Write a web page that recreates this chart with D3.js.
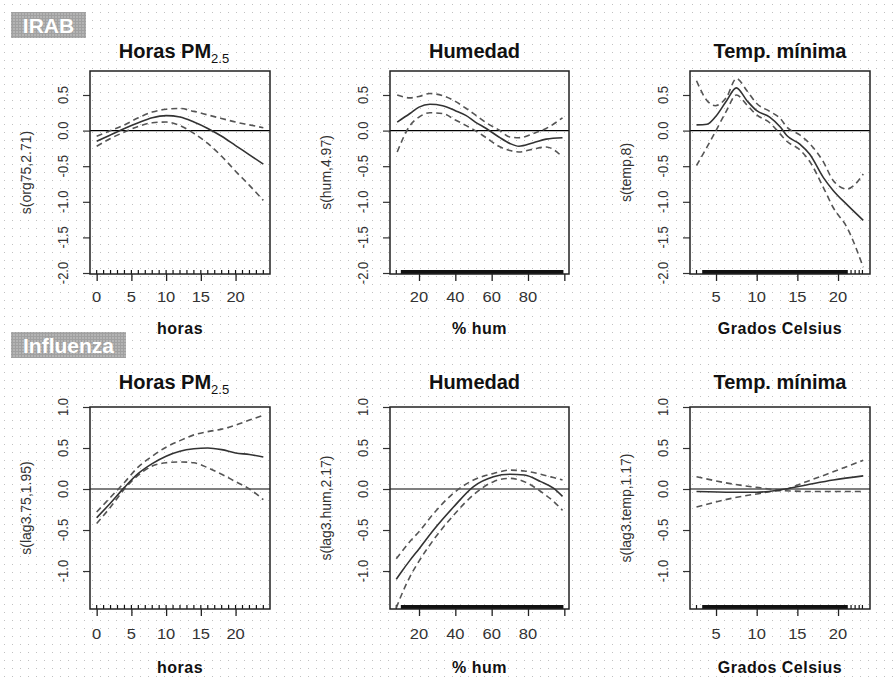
<!DOCTYPE html>
<html>
<head>
<meta charset="utf-8">
<script src="https://cdn.jsdelivr.net/npm/d3@7"></script>
<style>
  body { margin: 0; background: #fff; }
  svg { display: block; }
  text { font-family: "Liberation Sans", Arial, sans-serif; }
</style>
</head>
<body>
<svg id="chart"></svg>
<script>
// canvas
let width = 894
let height = 677

// ---- data ----
// x values per panel
let horasX = [0, 2, 4, 6, 8, 10, 12, 14, 16, 18, 20, 22, 24]
let humX = [8, 15, 20, 26, 33, 40, 46, 51, 57, 64, 70, 75, 83, 90, 99]
let tempX = [2.6, 3.9, 4.9, 6.3, 7.5, 8.8, 10, 11.6, 12.9, 13.7, 15.3, 16.5, 18.2, 19.4, 21.1, 23.1]
let humX2 = [7.5, 10, 15, 20, 28, 39, 50, 61, 70, 78, 87, 94, 99]
let tempX2 = [2.6, 7.1, 10, 12.9, 16.1, 19.4, 23.1]

// IRAB
let irabHorasFit = [-0.15, -0.06, 0.03, 0.11, 0.18, 0.21, 0.19, 0.12, 0.03, -0.08, -0.21, -0.34, -0.47]
let irabHorasUp = [-0.08, 0.0, 0.08, 0.18, 0.26, 0.30, 0.31, 0.27, 0.22, 0.17, 0.12, 0.08, 0.04]
let irabHorasLo = [-0.22, -0.11, -0.02, 0.06, 0.11, 0.12, 0.07, -0.04, -0.18, -0.36, -0.57, -0.77, -0.98]

let irabHumFit = [0.12, 0.24, 0.33, 0.37, 0.35, 0.28, 0.21, 0.12, 0.03, -0.09, -0.18, -0.22, -0.17, -0.12, -0.10]
let irabHumUp = [0.50, 0.46, 0.48, 0.52, 0.49, 0.41, 0.31, 0.22, 0.11, 0.01, -0.09, -0.10, -0.04, 0.03, 0.18]
let irabHumLo = [-0.30, 0.07, 0.19, 0.25, 0.24, 0.15, 0.07, 0.0, -0.10, -0.22, -0.28, -0.30, -0.26, -0.23, -0.37]

let irabTempFit = [0.08, 0.09, 0.19, 0.42, 0.60, 0.42, 0.28, 0.19, 0.05, -0.07, -0.19, -0.33, -0.66, -0.84, -1.04, -1.26]
let irabTempUp = [0.70, 0.42, 0.35, 0.47, 0.73, 0.56, 0.38, 0.27, 0.17, 0.05, -0.06, -0.18, -0.44, -0.70, -0.82, -0.61]
let irabTempLo = [-0.49, -0.23, -0.02, 0.28, 0.50, 0.36, 0.22, 0.11, -0.05, -0.15, -0.27, -0.43, -0.80, -1.08, -1.36, -1.92]

// Influenza
let fluHorasFit = [-0.35, -0.17, 0.02, 0.19, 0.31, 0.40, 0.46, 0.49, 0.50, 0.48, 0.44, 0.42, 0.39]
let fluHorasUp = [-0.28, -0.10, 0.08, 0.27, 0.40, 0.51, 0.59, 0.66, 0.70, 0.73, 0.78, 0.84, 0.90]
let fluHorasLo = [-0.42, -0.22, 0.0, 0.17, 0.28, 0.32, 0.33, 0.32, 0.26, 0.18, 0.09, 0.0, -0.13]

let fluHumFit = [-1.10, -1.02, -0.87, -0.73, -0.50, -0.22, 0.03, 0.15, 0.18, 0.17, 0.09, 0.01, -0.09]
let fluHumUp = [-0.85, -0.78, -0.64, -0.52, -0.30, -0.05, 0.11, 0.19, 0.23, 0.22, 0.18, 0.14, 0.11]
let fluHumLo = [-1.45, -1.31, -1.07, -0.88, -0.62, -0.32, -0.07, 0.09, 0.13, 0.09, -0.03, -0.15, -0.26]

let fluTempFit = [-0.03, -0.04, -0.04, -0.01, 0.05, 0.11, 0.16]
let fluTempUp = [0.15, 0.06, 0.02, -0.01, 0.09, 0.21, 0.35]
let fluTempLo = [-0.22, -0.11, -0.06, -0.02, -0.03, -0.03, -0.03]

// rugs: single ticks and dense stretches
let rugHoras = [0, 1, 2, 3, 4, 5, 6, 7, 8, 9, 10, 11, 12, 13, 14, 15, 16, 17, 18, 19, 20, 21, 22, 23, 24]
let rugHumTicks = [7.5]
let rugHumDense = [[10, 99.5]]
let rugTempTicks = [2.6, 21.6, 22.1, 22.6, 23.0]
let rugTempDense = [[3.3, 21.2]]

// ticks
let horasTicks = [0, 5, 10, 15, 20]
let horasLabels = ["0", "5", "10", "15", "20"]
let humTicks = [20, 40, 60, 80, 100]
let humLabels = ["20", "40", "60", "80", ""]
let tempTicks = [5, 10, 15, 20]
let tempLabels = ["5", "10", "15", "20"]
let irabYTicks = [-2, -1.5, -1, -0.5, 0, 0.5]
let fluYTicks = [-1, -0.5, 0, 0.5, 1]

// texts
let groupNames = ["IRAB", "Influenza"]
let titles = ["Horas PM", "Humedad", "Temp. mínima"]
let xTitles = ["horas", "% hum", "Grados Celsius"]
let irabYTitles = ["s(org75,2.71)", "s(hum,4.97)", "s(temp,8)"]
let fluYTitles = ["s(lag3.75,1.95)", "s(lag3.hum,2.17)", "s(lag3.temp,1.17)"]

// ---- layout ----
let colLeft = [90, 390, 690]
let colRight = [270, 569, 870]
let rows = [
	{top: 71, bottom: 274, domain: [-2.014, 0.837], ticks: irabYTicks, yTitles: irabYTitles,
	 label: {x: 11, y: 12, w: 75, h: 26}, titleY: 58, xLabY: 297, xTitleY: 334},
	{top: 407, bottom: 609, domain: [-1.463, 1.0], ticks: fluYTicks, yTitles: fluYTitles,
	 label: {x: 11, y: 332, w: 115, h: 26}, titleY: 389, xLabY: 634, xTitleY: 673}
]
let xDomains = [[-0.96, 24.96], [4.04, 102.57], [1.80, 23.93]]
let xTicks = [horasTicks, humTicks, tempTicks]
let xLabels = [horasLabels, humLabels, tempLabels]
let rugTicks = [rugHoras, rugHumTicks, rugTempTicks]
let rugDense = [[], rugHumDense, rugTempDense]

let panels = [
	[{x: horasX, fit: irabHorasFit, up: irabHorasUp, lo: irabHorasLo},
	 {x: humX, fit: irabHumFit, up: irabHumUp, lo: irabHumLo},
	 {x: tempX, fit: irabTempFit, up: irabTempUp, lo: irabTempLo}],
	[{x: horasX, fit: fluHorasFit, up: fluHorasUp, lo: fluHorasLo},
	 {x: humX2, fit: fluHumFit, up: fluHumUp, lo: fluHumLo},
	 {x: tempX2, fit: fluTempFit, up: fluTempUp, lo: fluTempLo}]
]

let svg = d3.select("#chart")
	.attr("width", width)
	.attr("height", height)

let defs = svg.append("defs")

// dotted paper background
let dots = defs.append("pattern")
	.attr("id", "dots")
	.attr("width", 8)
	.attr("height", 8)
	.attr("patternUnits", "userSpaceOnUse")
dots.append("rect").attr("width", 8).attr("height", 8).attr("fill", "#fff")
dots.append("rect").attr("x", 4).attr("y", 4).attr("width", 1).attr("height", 1).attr("fill", "#c0c0c0")

// grid texture of the label boxes
let grid = defs.append("pattern")
	.attr("id", "grid")
	.attr("width", 3)
	.attr("height", 3)
	.attr("patternUnits", "userSpaceOnUse")
grid.append("rect").attr("width", 3).attr("height", 3).attr("fill", "#b4b4b4")
grid.append("rect").attr("width", 3).attr("height", 1).attr("fill", "#a0a0a0")
grid.append("rect").attr("width", 1).attr("height", 3).attr("fill", "#a0a0a0")

svg.append("rect")
	.attr("width", width)
	.attr("height", height)
	.attr("fill", "url(#dots)")

// stretched text (the picture is a bit wider than tall)
let sx = 1.18

rows.forEach((row, r) => {
	// group label
	svg.append("rect")
		.attr("x", row.label.x).attr("y", row.label.y)
		.attr("width", row.label.w).attr("height", row.label.h)
		.attr("fill", "url(#grid)")
	svg.append("text")
		.attr("x", row.label.x + row.label.w / 2)
		.attr("y", row.label.y + row.label.h / 2 + 7.5)
		.attr("text-anchor", "middle")
		.attr("fill", "#fff")
		.attr("font-weight", "bold")
		.attr("font-size", 21)
		.text(groupNames[r])

	let yScale = d3.scaleLinear()
		.domain(row.domain)
		.range([row.bottom, row.top])

	for (let c = 0; c < 3; c++) {
		let xScale = d3.scaleLinear()
			.domain(xDomains[c])
			.range([colLeft[c], colRight[c]])
		let p = panels[r][c]
		let g = svg.append("g")

		let clipId = `clip${r}${c}`
		defs.append("clipPath").attr("id", clipId)
			.append("rect")
			.attr("x", colLeft[c]).attr("y", row.top)
			.attr("width", colRight[c] - colLeft[c])
			.attr("height", row.bottom - row.top)

		// title
		let title = g.append("text")
			.attr("x", (colLeft[c] + colRight[c]) / 2 + (c === 0 ? -6 : c === 1 ? -5 : 0))
			.attr("y", row.titleY)
			.attr("text-anchor", "middle")
			.attr("font-weight", "bold")
			.attr("font-size", 20)
			.attr("fill", "#111")
			.text(titles[c])
		if (c === 0) {
			title.append("tspan")
				.attr("font-size", 13)
				.attr("font-weight", "normal")
				.attr("dy", 5)
				.text("2.5")
		}

		// y axis ticks
		g.append("g")
			.attr("transform", `translate(${colLeft[c]},0)`)
			.call(d3.axisLeft(yScale).tickValues(row.ticks).tickSize(7).tickSizeOuter(0).tickFormat(""))
			.call(a => a.select(".domain").remove())
			.call(a => a.selectAll("line").attr("stroke", "#333").attr("stroke-width", 1.2))

		g.selectAll(".ylab")
			.data(row.ticks)
			.enter()
			.append("text")
			.attr("transform", d => `translate(${colLeft[c] - 22},${yScale(d)}) rotate(-90) scale(1,${sx})`)
			.attr("text-anchor", "middle")
			.attr("font-size", 13)
			.attr("fill", "#333")
			.text(d => d.toFixed(1))

		g.append("text")
			.attr("transform", `translate(${colLeft[c] - 59},${(row.top + row.bottom) / 2}) rotate(-90)`)
			.attr("text-anchor", "middle")
			.attr("font-size", 14)
			.attr("fill", "#333")
			.text(row.yTitles[c])

		// x axis ticks
		g.append("g")
			.attr("transform", `translate(0,${row.bottom})`)
			.call(d3.axisBottom(xScale).tickValues(xTicks[c]).tickSize(7).tickSizeOuter(0).tickFormat(""))
			.call(a => a.select(".domain").remove())
			.call(a => a.selectAll("line").attr("stroke", "#222").attr("stroke-width", 1.3))

		g.selectAll(".xlab")
			.data(xTicks[c])
			.enter()
			.append("text")
			.attr("transform", d => `translate(${xScale(d)},${row.xLabY + 5}) scale(${sx},1)`)
			.attr("text-anchor", "middle")
			.attr("font-size", 14)
			.attr("fill", "#333")
			.text((d, i) => xLabels[c][i])

		g.append("text")
			.attr("x", (colLeft[c] + colRight[c]) / 2)
			.attr("y", row.xTitleY)
			.attr("text-anchor", "middle")
			.attr("font-weight", "bold")
			.attr("font-size", 16)
			.attr("letter-spacing", 0.5)
			.attr("fill", "#111")
			.text(xTitles[c])

		// rug
		g.selectAll(".rug")
			.data(rugTicks[c])
			.enter()
			.append("line")
			.attr("x1", d => xScale(d)).attr("x2", d => xScale(d))
			.attr("y1", row.bottom).attr("y2", row.bottom - 4)
			.attr("stroke", "#111")
			.attr("stroke-width", 1.2)
		g.selectAll(".rugband")
			.data(rugDense[c])
			.enter()
			.append("rect")
			.attr("x", d => xScale(d[0]))
			.attr("width", d => xScale(d[1]) - xScale(d[0]))
			.attr("y", row.bottom - 4)
			.attr("height", 4)
			.attr("fill", "#111")

		// zero line
		g.append("line")
			.attr("x1", colLeft[c]).attr("x2", colRight[c])
			.attr("y1", yScale(0)).attr("y2", yScale(0))
			.attr("stroke", "#000")
			.attr("stroke-width", 1.2)

		// curves
		let line = key => d3.line()
			.x((d, i) => xScale(p.x[i]))
			.y(d => yScale(d))
			.curve(d3.curveMonotoneX)(p[key])

		let curves = g.append("g").attr("clip-path", `url(#${clipId})`)
		curves.append("path")
			.attr("d", line("up"))
			.attr("fill", "none")
			.attr("stroke", "#555")
			.attr("stroke-width", 1.6)
			.attr("stroke-dasharray", "6,4")
		curves.append("path")
			.attr("d", line("lo"))
			.attr("fill", "none")
			.attr("stroke", "#555")
			.attr("stroke-width", 1.6)
			.attr("stroke-dasharray", "6,4")
		curves.append("path")
			.attr("d", line("fit"))
			.attr("fill", "none")
			.attr("stroke", "#333")
			.attr("stroke-width", 1.6)

		// box
		g.append("rect")
			.attr("x", colLeft[c]).attr("y", row.top)
			.attr("width", colRight[c] - colLeft[c])
			.attr("height", row.bottom - row.top)
			.attr("fill", "none")
			.attr("stroke", "#222")
			.attr("stroke-width", 1.5)
	}
})
</script>
</body>
</html>
